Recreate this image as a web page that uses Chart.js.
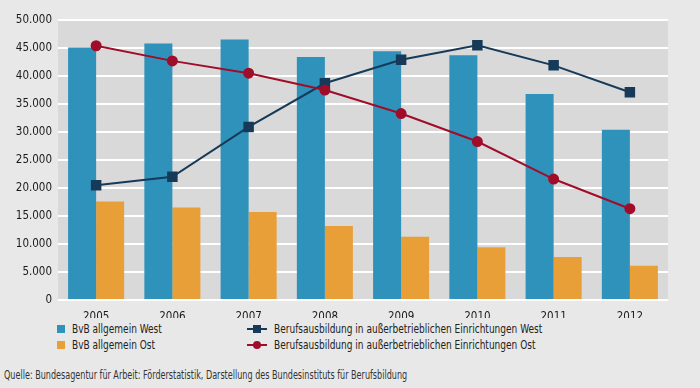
<!DOCTYPE html>
<html>
<head>
<meta charset="utf-8">
<script src="https://cdn.jsdelivr.net/npm/chart.js@4/dist/chart.umd.min.js"></script>
<style>
  body { margin: 0; background: #e8e8e8; font-family: "DejaVu Sans Condensed", "Liberation Sans", sans-serif; color: #222; }
  #wrap { position: relative; width: 700px; height: 388px; overflow: hidden; }
  #box { position: absolute; left: 0; top: 0; width: 700px; height: 318px; }
  .leg { position: absolute; font-size: 13px; line-height: 14px; white-space: nowrap; transform: scaleX(0.77); transform-origin: left top; }
  .sq { position: absolute; width: 8px; height: 8px; }
  .ln { position: absolute; width: 20px; height: 2px; }
  .mk { position: absolute; }
  #src { position: absolute; left: 4px; top: 368px; font-size: 11.5px; color: #333; white-space: nowrap; transform: scaleX(0.78); transform-origin: left top; }
</style>
</head>
<body>
<div id="wrap">
  <div id="box"><canvas id="c"></canvas></div>

  <div class="sq" style="left:57px;top:325px;background:#2e92bb"></div>
  <div class="leg" style="left:72px;top:322px">BvB allgemein West</div>
  <div class="sq" style="left:57px;top:341px;background:#e89f37"></div>
  <div class="leg" style="left:72px;top:338px">BvB allgemein Ost</div>

  <div class="ln" style="left:247px;top:328px;background:#163a58"></div>
  <div class="mk" style="left:253px;top:325px;width:8px;height:8px;background:#163a58"></div>
  <div class="leg" style="left:274px;top:322px">Berufsausbildung in außerbetrieblichen Einrichtungen West</div>
  <div class="ln" style="left:247px;top:344px;background:#a00d2a"></div>
  <div class="mk" style="left:253px;top:341px;width:8px;height:8px;border-radius:50%;background:#a00d2a"></div>
  <div class="leg" style="left:274px;top:338px">Berufsausbildung in außerbetrieblichen Einrichtungen Ost</div>

  <div id="src">Quelle: Bundesagentur für Arbeit: Förderstatistik, Darstellung des Bundesinstituts für Berufsbildung</div>
</div>
<script>
const years = ["2005", "2006", "2007", "2008", "2009", "2010", "2011", "2012"];
const bvbWest = [45100, 45800, 46500, 43400, 44400, 43700, 36800, 30400];
const bvbOst = [17600, 16500, 15700, 13200, 11300, 9400, 7700, 6100];
const baeWest = [20500, 22000, 30900, 38700, 42900, 45500, 41900, 37100];
const baeOst = [45400, 42700, 40500, 37500, 33300, 28300, 21600, 16300];

const plotBg = {
  id: "plotBg",
  beforeDraw(chart) {
    const { ctx, chartArea: a } = chart;
    ctx.save();
    ctx.fillStyle = "#d9d9d9";
    ctx.fillRect(a.left, a.top, a.right - a.left, a.bottom - a.top);
    ctx.restore();
  }
};

const tickFont = { family: "'DejaVu Sans Condensed', sans-serif", size: 11.5 };

new Chart(document.getElementById("c"), {
  type: "bar",
  data: {
    labels: years,
    datasets: [
      { type: "line", label: "Berufsausbildung in außerbetrieblichen Einrichtungen Ost", data: baeOst,
        borderColor: "#a00d2a", backgroundColor: "#a00d2a", borderWidth: 2, pointStyle: "circle",
        pointRadius: 4.5, tension: 0, order: 1 },
      { type: "line", label: "Berufsausbildung in außerbetrieblichen Einrichtungen West", data: baeWest,
        borderColor: "#163a58", backgroundColor: "#163a58", borderWidth: 2, pointStyle: "rect",
        pointRadius: 6, tension: 0, order: 2 },
      { label: "BvB allgemein West", data: bvbWest, backgroundColor: "#2e92bb",
        categoryPercentage: 0.735, barPercentage: 1, order: 3 },
      { label: "BvB allgemein Ost", data: bvbOst, backgroundColor: "#e89f37",
        categoryPercentage: 0.735, barPercentage: 1, order: 3 }
    ]
  },
  options: {
    responsive: true,
    maintainAspectRatio: false,
    animation: false,
    layout: { padding: { top: 20, right: 32, left: 0, bottom: 0 } },
    plugins: { legend: { display: false }, tooltip: { enabled: false } },
    scales: {
      x: {
        grid: { display: false },
        border: { display: false },
        ticks: { color: "#1a1a1a", font: tickFont, padding: 2 },
        afterFit(scale) { scale.height = 18; }
      },
      y: {
        min: 0, max: 50000,
        grid: { color: "#ffffff", lineWidth: 2, drawTicks: false },
        border: { display: false },
        ticks: { stepSize: 5000, color: "#1a1a1a", font: tickFont, padding: 6,
          callback: v => v.toLocaleString("de-DE") },
        afterFit(scale) { scale.width = 58; }
      }
    }
  },
  plugins: [plotBg]
});
</script>
</body>
</html>
